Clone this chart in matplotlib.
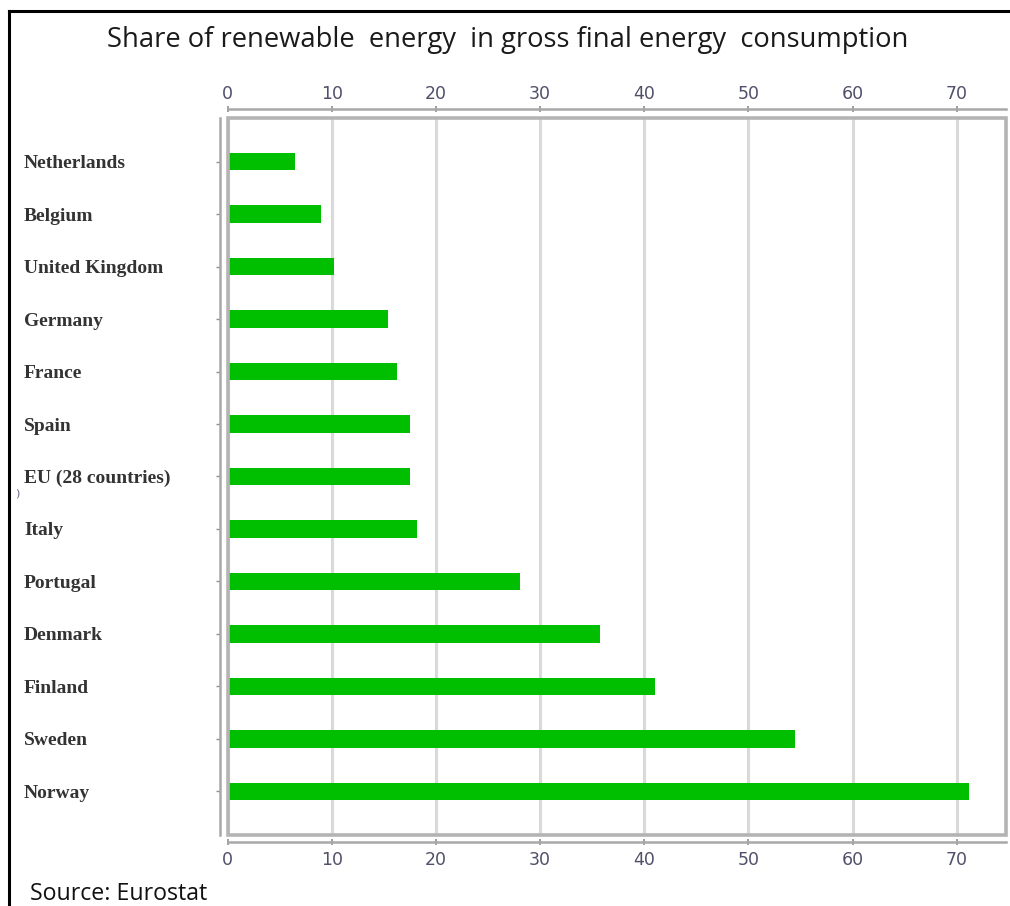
import matplotlib
matplotlib.use("Agg")
import matplotlib.pyplot as plt
import matplotlib.transforms as mtrans
from matplotlib.lines import Line2D
from matplotlib.patches import Rectangle

countries = ["Netherlands", "Belgium", "United Kingdom", "Germany", "France", "Spain",
             "EU (28 countries)", "Italy", "Portugal", "Denmark", "Finland", "Sweden", "Norway"]
shares = [6.5, 9.0, 10.2, 15.4, 16.3, 17.5, 17.5, 18.2, 28.1, 35.8, 41.0, 54.5, 71.2]
xticks = [0, 10, 20, 30, 40, 50, 60, 70]
title = "Share of renewable  energy  in gross final energy  consumption"
source = "Source: Eurostat"

W, H = 1010, 906
PT = 0.72  # points per pixel at dpi 100
fig = plt.figure(figsize=(W / 100, H / 100), dpi=100)
fig.patch.set_facecolor("white")


def fx(px):
    return px / W


def fy(py):
    return 1 - py / H


# figure border (top and left visible)
fig.add_artist(Line2D([fx(8.5), fx(1012)], [fy(11), fy(11)], color="black", lw=2.2))
fig.add_artist(Line2D([fx(8.5), fx(8.5)], [fy(11), fy(910)], color="black", lw=2.2))

left, right, top, bottom = 227.5, 1005.7, 118, 835
ax = fig.add_axes([fx(left), fy(bottom), (right - left) / W, (bottom - top) / H])

y = list(range(len(countries)))
ax.barh(y, shares, height=0.33, color="#00bf00", zorder=3)
ax.set_xlim(0, 74.7)
ax.set_ylim(12.83, -0.83)

ax.set_xticks(xticks)
ax.set_xticklabels([str(t) for t in xticks])
ax.set_yticks(y)
ax.set_yticklabels(countries)

ax.grid(axis="x", color="#d9d9d9", lw=2.2, zorder=0)
ax.set_axisbelow(True)

# inner frame
ax.add_patch(Rectangle((0, 0), 1, 1, transform=ax.transAxes, fill=False,
                       edgecolor="#b4b4b4", lw=2.6, zorder=4, clip_on=False))

axis_col = "#a8a8a8"
for s in ["top", "bottom", "left"]:
    ax.spines[s].set_color(axis_col)
    ax.spines[s].set_linewidth(1.8)
ax.spines["right"].set_visible(False)
ax.spines["top"].set_position(("outward", 9 * PT))
ax.spines["bottom"].set_position(("outward", 7 * PT))
ax.spines["left"].set_position(("outward", 7.5 * PT))

ax.tick_params(axis="x", which="both", top=True, bottom=True, labeltop=True, labelbottom=True,
               direction="inout", length=5, width=1.2, color="#909090",
               labelsize=12.5, labelcolor="#50506a", pad=4)
shift_down = mtrans.ScaledTranslation(0, -3 / 100, fig.dpi_scale_trans)
for t in ax.xaxis.get_major_ticks():
    t.label1.set_fontfamily("DejaVu Sans")
    t.label2.set_fontfamily("DejaVu Sans")
    t.label2.set_transform(t.label2.get_transform() + shift_down)

tick_len_px = 4
ax.tick_params(axis="y", which="both", left=True, direction="out", length=tick_len_px * PT,
               width=1, color="#909090", pad=(220 - tick_len_px - 24) * PT, labelsize=14,
               labelcolor="#333333")
for lab in ax.get_yticklabels():
    lab.set_horizontalalignment("left")
    lab.set_fontfamily("Liberation Serif")
    lab.set_fontweight("bold")

fig.text(fx(508), fy(40), title, ha="center", va="center", fontsize=19.7,
         family="Open Sans", color="#1a1a1a")
fig.text(fx(30), fy(894), source, ha="left", va="center", fontsize=16.7,
         family="Open Sans", color="#111111")
fig.text(fx(17), fy(493), ")", ha="center", va="center", fontsize=8, color="#6a6a8a")

fig.savefig("out.png", dpi=100)
